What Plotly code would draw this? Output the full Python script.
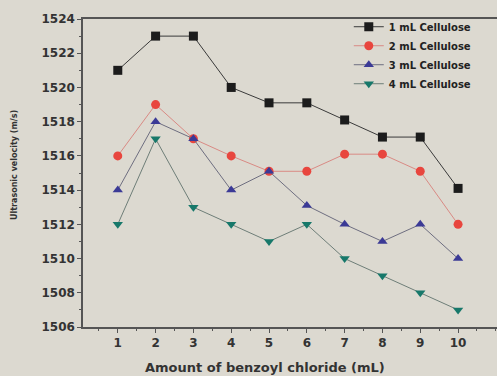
import plotly.graph_objects as go

x_vals = [1, 2, 3, 4, 5, 6, 7, 8, 9, 10]
cell_1ml = [1521, 1523, 1523, 1520, 1519.1, 1519.1, 1518.1, 1517.1, 1517.1, 1514.1]
cell_2ml = [1516, 1519, 1517, 1516, 1515.1, 1515.1, 1516.1, 1516.1, 1515.1, 1512]
cell_3ml = [1514, 1518, 1517, 1514, 1515.1, 1513.1, 1512, 1511, 1512, 1510]
cell_4ml = [1512, 1517, 1513, 1512, 1511, 1512, 1510, 1509, 1508, 1507]
names = ["1 mL Cellulose", "2 mL Cellulose", "3 mL Cellulose", "4 mL Cellulose"]
y_ticks = [1506, 1508, 1510, 1512, 1514, 1516, 1518, 1520, 1522, 1524]

series = [cell_1ml, cell_2ml, cell_3ml, cell_4ml]
marker_colors = ["#1c1c1c", "#e8463e", "#3b3a96", "#17786a"]
line_colors = ["#3a3a3a", "#d98a84", "#6e6e80", "#6e7e78"]
symbols = ["square", "circle", "triangle-up", "triangle-down"]

fig = go.Figure()
for ys, nm, mc, lc, sym in zip(series, names, marker_colors, line_colors, symbols):
    fig.add_trace(go.Scatter(
        x=x_vals, y=ys, name=nm, mode="lines+markers",
        line=dict(color=lc, width=1),
        marker=dict(color=mc, symbol=sym, size=9, line=dict(width=0)),
    ))

bg = "#dcd9d0"
fam = "DejaVu Sans, Arial, sans-serif"
txt = "#333"
fig.update_layout(
    width=497, height=376,
    paper_bgcolor=bg, plot_bgcolor=bg,
    margin=dict(l=83, r=0, t=19, b=49, autoexpand=False),
    font=dict(family=fam, color=txt, size=11),
    showlegend=True,
    legend=dict(x=0.642, y=1.022, xanchor="left", yanchor="top",
                bgcolor="rgba(0,0,0,0)",
                font=dict(family=fam, size=10, color="#222", weight="bold"),
                tracegroupgap=0, itemwidth=30),
)
fig.update_xaxes(
    range=[0.08, 11.03], tickvals=x_vals, showgrid=False, zeroline=False,
    showline=True, linecolor="#555", linewidth=1.5, mirror=True,
    ticks="outside", ticklen=4, tickcolor="#555",
    minor=dict(ticks="outside", ticklen=2, dtick=0.5, tick0=0, tickcolor="#555"),
    tickfont=dict(family=fam, size=12, color=txt, weight="bold"),
)
fig.update_yaxes(
    range=[1506, 1524], tickvals=y_ticks, showgrid=False, zeroline=False,
    showline=True, linecolor="#555", linewidth=1.5,
    ticks="outside", ticklen=4, tickcolor="#555",
    minor=dict(ticks="outside", ticklen=2, dtick=1, tickcolor="#555"),
    tickfont=dict(family=fam, size=12, color=txt, weight="bold"),
)
fig.add_annotation(text="Amount of benzoyl chloride (mL)", xref="paper", yref="paper",
                   x=(265 - 83) / 414, y=(327 - 367) / 308, xanchor="center", yanchor="middle",
                   showarrow=False, font=dict(family=fam, size=13, color=txt, weight="bold"))
fig.add_annotation(text="Ultrasonic velocity (m/s)", xref="paper", yref="paper",
                   x=(14 - 83) / 414, y=(327 - 165) / 308, xanchor="center", yanchor="middle",
                   textangle=-90, showarrow=False,
                   font=dict(family=fam, size=8, color=txt, weight="bold"))
fig.write_html(
    "out.html",
    config={"displayModeBar": False},
    post_script="document.body.style.margin='0';document.body.style.background='%s';" % bg,
)
